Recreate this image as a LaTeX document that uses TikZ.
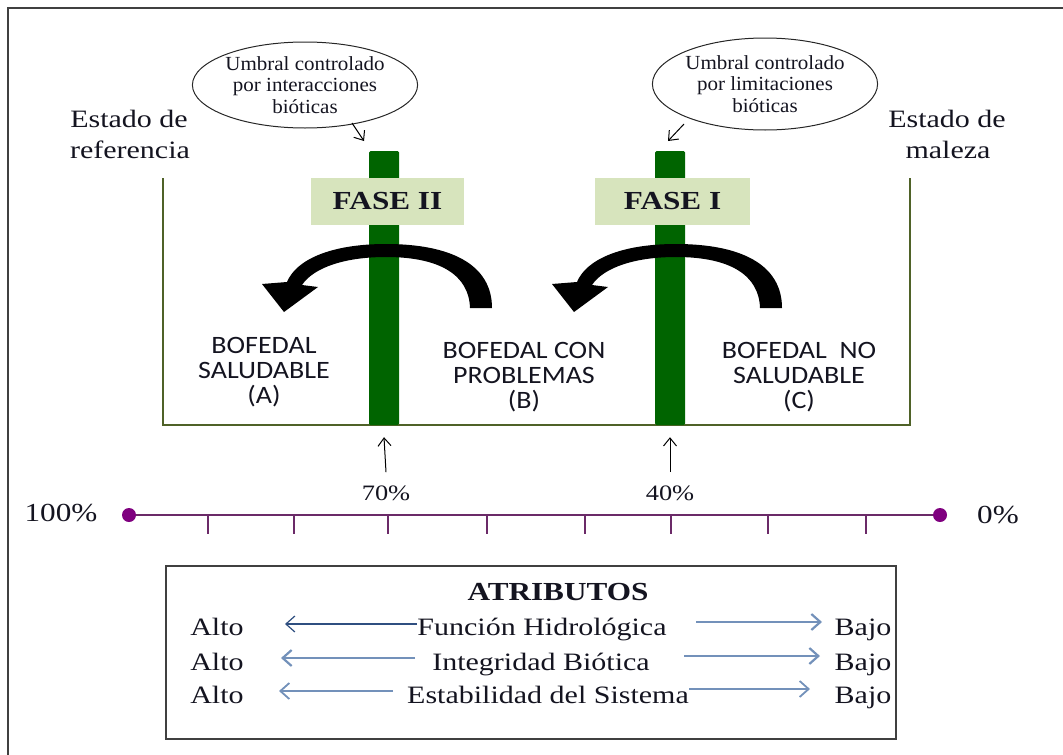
\documentclass[tikz,border=0pt]{standalone}
\usepackage{fontspec}
\setmainfont{Liberation Serif}[FakeStretch=1.2]
\newfontfamily\ellfont{Liberation Serif}[FakeStretch=1.05]
\newfontfamily\calib{Carlito}[FakeStretch=1.12]
\usetikzlibrary{arrows.meta,shapes.geometric}
\definecolor{ink}{HTML}{141420}
\definecolor{olivec}{HTML}{4F6228}
\definecolor{barc}{HTML}{006400}
\definecolor{fasebg}{HTML}{D7E4BD}
\definecolor{scalec}{HTML}{6B2A68}
\definecolor{dotc}{HTML}{7F007F}
\definecolor{arrA}{HTML}{2F4F80}
\definecolor{arrB}{HTML}{7391BA}
\begin{document}
\begin{tikzpicture}[x=1pt,y=-1pt,
  txt/.style={inner sep=0,text=ink,anchor=base},
  estado/.style={txt,font=\fontsize{25}{30}\selectfont},
  bof/.style={txt,font=\calib\fontsize{25}{28}\selectfont},
  ell/.style={draw=black!85,line width=1,ellipse,inner sep=0,align=center,text=ink,font=\ellfont\fontsize{20}{21.5}\selectfont},
  barstyle/.style={fill=barc,rounded corners=1.5,inner sep=0,minimum width=30},
  fase/.style={fill=fasebg,inner sep=0,minimum height=47,text=ink,font=\bfseries\fontsize{26}{30}\selectfont},
  vtip/.style={-{Straight Barb[length=8pt,width=13pt]}},
  pct/.style={txt,font=\fontsize{22}{26}\selectfont},
  big/.style={txt,font=\fontsize{26}{30}\selectfont},
  attr/.style={txt,font=\fontsize{25}{30}\selectfont},
  rowA/.style={draw=arrA,line width=1.2,-{Straight Barb[length=9pt,width=16pt]}},
  rowB/.style={draw=arrB,line width=2.2,-{Straight Barb[length=9pt,width=16pt]}}
]
\useasboundingbox (0,0) rectangle (1063,755);
% outer frame
\draw[line width=1.6,draw=black!75] (8,755) -- (8,8) -- (1063,8);
% inner U box
\draw[olivec,line width=1.3] (163,178) -- (163,425) -- (910,425) -- (910,178);
% bars
\node[barstyle,minimum height=274] (bar2) at (384,288) {};
\node[barstyle,minimum height=274] (bar1) at (670,288) {};
% fase labels
\node[fase,minimum width=153] (f2) at (387.5,201.5) {FASE II};
\node[fase,minimum width=155] (f1) at (672.5,201.5) {FASE I};
% curved arrows
\foreach \s in {0,290}{
\begin{scope}[xshift=\s pt]
\fill[black] (492,308) .. controls (492,264) and (450,244) .. (386,244)
  .. controls (330,244) and (296,260) .. (287,282)
  -- (262,284) -- (284,312) -- (318,287) -- (302,285)
  .. controls (314,267) and (346,257) .. (386,257)
  .. controls (440,257) and (469,275) .. (470,308) -- cycle;
\end{scope}}
% ellipses
\node[ell,minimum width=220,minimum height=86] (u2) at (305,85) {Umbral controlado\\por interacciones\\bióticas};
\node[ell,minimum width=216,minimum height=92] (u1) at (765,84) {Umbral controlado\\por limitaciones\\bióticas};
\coordinate (u2s) at (352,123);
\coordinate (u2e) at (364,141);
\coordinate (u1s) at (684,124);
\coordinate (u1e) at (668,141);
\draw[vtip,line width=1] (u2s) -- (u2e);
\draw[vtip,line width=1] (u1s) -- (u1e);
% estado labels
\node[estado] (er1) at (129,127) {Estado de};
\node[estado] (er2) at (130,158) {referencia};
\node[estado] (em1) at (947,127) {Estado de};
\node[estado] (em2) at (948,158) {maleza};
% bofedal labels
\node[bof] (a1) at (264,353) {BOFEDAL};
\node[bof] (a2) at (264,378) {SALUDABLE};
\node[bof] (a3) at (264,403) {(A)};
\node[bof] (b1) at (524,358) {BOFEDAL CON};
\node[bof] (b2) at (524,383) {PROBLEMAS};
\node[bof] (b3) at (524,408) {(B)};
\node[bof] (c1) at (799,358) {BOFEDAL\ \ NO};
\node[bof] (c2) at (799,383) {SALUDABLE};
\node[bof] (c3) at (799,408) {(C)};
% percent labels and arrows
\node[pct] (l70) at (386,500) {70\%};
\node[pct] (l40) at (670,500) {40\%};
\draw[vtip,line width=1] ([yshift=13pt]l70.north) -- ([yshift=-12pt]bar2.south);
\draw[vtip,line width=1] ([yshift=13pt]l40.north) -- ([yshift=-12pt]bar1.south);
% scale
\node[circle,fill=dotc,inner sep=0,minimum size=14] (dl) at (129,515) {};
\node[circle,fill=dotc,inner sep=0,minimum size=14] (dr) at (940,515) {};
\draw[scalec,line width=2] (dl) -- (dr);
\foreach \x in {208,294,388,487,585,671,768,866}
  \draw[scalec,line width=1.3] (\x,515) -- (\x,534);
\node[big] (p100) at (61,521) {100\%};
\node[big] (p0) at (998,523) {0\%};
% atributos box
\draw[line width=1.5,draw=black!75] (166,566) rectangle (896,739);
\node[txt,font=\bfseries\fontsize{26}{30}\selectfont] (atr) at (558,600) {ATRIBUTOS};
\node[attr] (al1) at (217,635) {Alto};
\node[attr] (al2) at (217,670) {Alto};
\node[attr] (al3) at (217,703) {Alto};
\node[attr] (bj1) at (863,635) {Bajo};
\node[attr] (bj2) at (863,670) {Bajo};
\node[attr] (bj3) at (863,703) {Bajo};
\node[attr] (t1) at (542,635) {Función Hidrológica};
\node[attr] (t2) at (541,670) {Integridad Biótica};
\node[attr] (t3) at (548,703) {Estabilidad del Sistema};
\coordinate (r1a) at (417,624); \coordinate (r1b) at (285,624);
\coordinate (r1c) at (696,622); \coordinate (r1d) at (822,622);
\coordinate (r2a) at (415,658); \coordinate (r2b) at (281,658);
\coordinate (r2c) at (684,656); \coordinate (r2d) at (820,656);
\coordinate (r3a) at (393,691); \coordinate (r3b) at (279,691);
\coordinate (r3c) at (689,689); \coordinate (r3d) at (810,689);
\draw[rowA] (r1a) -- (r1b);
\draw[rowB] (r1c) -- (r1d);
\draw[rowB] (r2a) -- (r2b);
\draw[rowB] (r2c) -- (r2d);
\draw[rowB,line width=1.8] (r3a) -- (r3b);
\draw[rowB,line width=1.8] (r3c) -- (r3d);
\end{tikzpicture}
\end{document}
